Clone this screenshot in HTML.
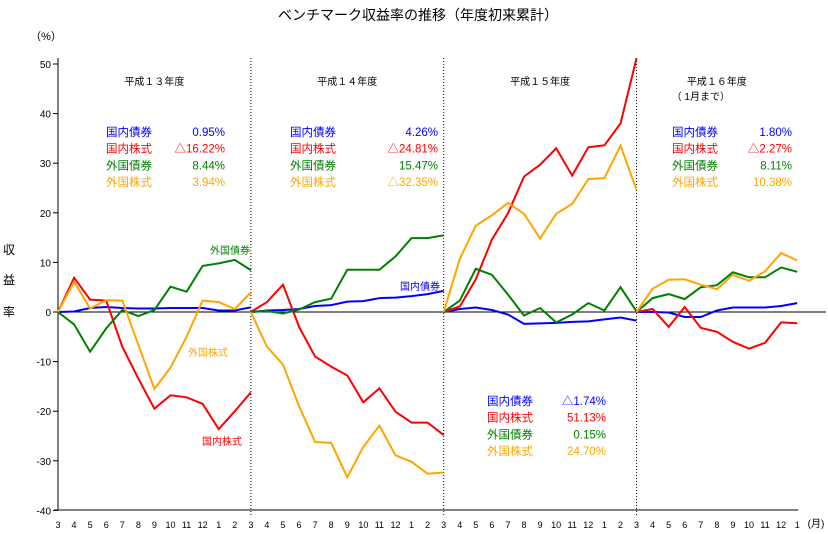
<!DOCTYPE html>
<html><head><meta charset="utf-8"><style>
body{margin:0;background:#fff;}
svg{display:block;font-family:"Liberation Sans","Noto Sans CJK JP",sans-serif;}
</style></head><body>
<svg id="c" width="828" height="534" viewBox="0 0 828 534">
<text x="418" y="20" font-size="14" text-anchor="middle">ベンチマーク収益率の推移（年度初来累計）</text>
<text x="46" y="40" font-size="11" text-anchor="middle">（%）</text>
<g font-size="12" text-anchor="middle"><text x="9" y="254">収</text><text x="9" y="284">益</text><text x="9" y="316">率</text></g>
<text x="816" y="527" font-size="10" text-anchor="middle">(月)</text>
<g id="axes"></g><g id="series"></g><g id="labels"></g>
</svg>
<script>
const months=["3","4","5","6","7","8","9","10","11","12","1","2","3","4","5","6","7","8","9","10","11","12","1","2","3","4","5","6","7","8","9","10","11","12","1","2","3","4","5","6","7","8","9","10","11","12","1"];
const yTicks=[50,40,30,20,10,0,-10,-20,-30,-40];
const yearNames=["平成１３年度","平成１４年度","平成１５年度","平成１６年度"];
const domBond=[[0,0.1,0.8,1.0,0.8,0.7,0.7,0.8,0.8,0.8,0.3,0.3,0.95],[0,0.3,0.4,0.6,1.2,1.4,2.1,2.2,2.8,2.9,3.2,3.6,4.26],[0,0.6,0.9,0.4,-0.5,-2.4,-2.3,-2.2,-2.0,-1.9,-1.5,-1.1,-1.74],[0,0,-0.1,-1,-1,0.3,0.9,0.9,0.9,1.2,1.8]];
const domStock=[[0,6.9,2.5,2.3,-7,-13.4,-19.5,-16.8,-17.2,-18.5,-23.6,-20,-16.22],[0,2.0,5.5,-3,-9,-11,-12.8,-18.2,-15.4,-20.1,-22.3,-22.3,-24.81],[0,1.1,6.6,14.6,19.9,27.3,29.7,33,27.5,33.2,33.6,38,51.13],[0,0.6,-3,1,-3.2,-4,-6,-7.4,-6.2,-2.1,-2.27]];
const forBond=[[0,-2.5,-8,-3.3,0.4,-0.8,0.4,5.1,4.1,9.3,9.8,10.5,8.44],[0,0.2,-0.3,0.5,2,2.7,8.5,8.5,8.5,11.2,14.9,14.9,15.47],[0,2.3,8.7,7.5,3.5,-0.7,0.8,-2.1,-0.5,1.8,0.3,5,0.15],[0,2.8,3.6,2.6,5,5.4,8,7,7,9,8.11]];
const forStock=[[0,6.1,0.7,2.4,2.3,-6.6,-15.5,-11.2,-5,2.3,2.0,0.6,3.94],[0,-7,-10.6,-19,-26.2,-26.4,-33.3,-27.2,-22.9,-28.9,-30.2,-32.6,-32.35],[0,10.7,17.4,19.5,22,19.8,14.8,19.8,21.8,26.8,27,33.5,24.70],[0,4.7,6.5,6.6,5.5,4.6,7.5,6.3,8.2,11.9,10.38]];
const seriesNames=["国内債券","国内株式","外国債券","外国株式"];
const statText=[["0.95%","△16.22%","8.44%","3.94%"],["4.26%","△24.81%","15.47%","△32.35%"],["△1.74%","51.13%","0.15%","24.70%"],["1.80%","△2.27%","8.11%","10.38%"]];
const colors=["#0000ff","#ff0000","#008000","#ffa500"];
const NS="http://www.w3.org/2000/svg";
const x0=58,dx=16.07,yz=312,ky=4.96;
const X=i=>x0+i*dx, Y=v=>yz-v*ky;
function mk(t,a,p){const e=document.createElementNS(NS,t);for(const k in a)e.setAttribute(k,a[k]);p.appendChild(e);return e;}
const axes=document.getElementById('axes'),ser=document.getElementById('series'),lab=document.getElementById('labels');
let e=mk('line',{x1:x0,y1:58,x2:x0,y2:510,stroke:'#000'},axes);

e=mk('line',{x1:x0-4,y1:510,x2:X(46)+1,y2:510,stroke:'#000'},axes);

e=mk('line',{x1:x0,y1:Y(0),x2:826,y2:Y(0),stroke:'#000'},axes);

yTicks.forEach(v=>{mk('line',{x1:x0-5,y1:Y(v),x2:x0,y2:Y(v),stroke:'#000'},axes);
 const t=mk('text',{x:x0-7,y:Y(v)+4,'font-size':10,'text-anchor':'end'},axes);t.textContent=v;
 });
months.forEach((m,i)=>{const t=mk('text',{x:X(i),y:528,'font-size':9,'text-anchor':'middle'},axes);t.textContent=m;
 });
[12,24,36].forEach(i=>{const l=mk('line',{x1:X(i),y1:58,x2:X(i),y2:515,stroke:'#000','stroke-dasharray':'1,2'},axes);
 });
yearNames.forEach((n,k)=>{const cx=(X(k*12)+Math.min(X(k*12+12),X(46)))/2;
 const t=mk('text',{x:cx,y:85,'font-size':10,'text-anchor':'middle'},lab);t.textContent=n;
 });
let t2=mk('text',{x:X(40),y:100,'font-size':10,'text-anchor':'middle'},lab);t2.textContent="（ 1月まで）";

[domBond,domStock,forBond,forStock].forEach((s,si)=>{s.forEach((yr,k)=>{
 const pts=yr.map((v,i)=>X(k*12+i).toFixed(1)+','+Y(v).toFixed(1)).join(' ');
 const p=mk('polyline',{points:pts,fill:'none',stroke:colors[si],'stroke-width':2},ser);
 });});
const statPos=[[106,225,136],[290,438,136],[487,606,405],[672,792,136]];
statPos.forEach((p,k)=>{for(let r=0;r<4;r++){
 const a=mk('text',{x:p[0],y:p[2]+r*16.7,'font-size':11.5,fill:colors[r]},lab);a.textContent=seriesNames[r];
 
 const b=mk('text',{x:p[1],y:p[2]+r*16.7,'font-size':11.5,fill:colors[r],'text-anchor':'end'},lab);b.textContent=statText[k][r];
 }});
[["外国債券",210,254,2],["国内債券",400,290,0],["外国株式",188,356,3],["国内株式",202,445,1]].forEach(d=>{
 const t=mk('text',{x:d[1],y:d[2],'font-size':10,fill:colors[d[3]]},lab);t.textContent=d[0];
 });
</script>
</body></html>
